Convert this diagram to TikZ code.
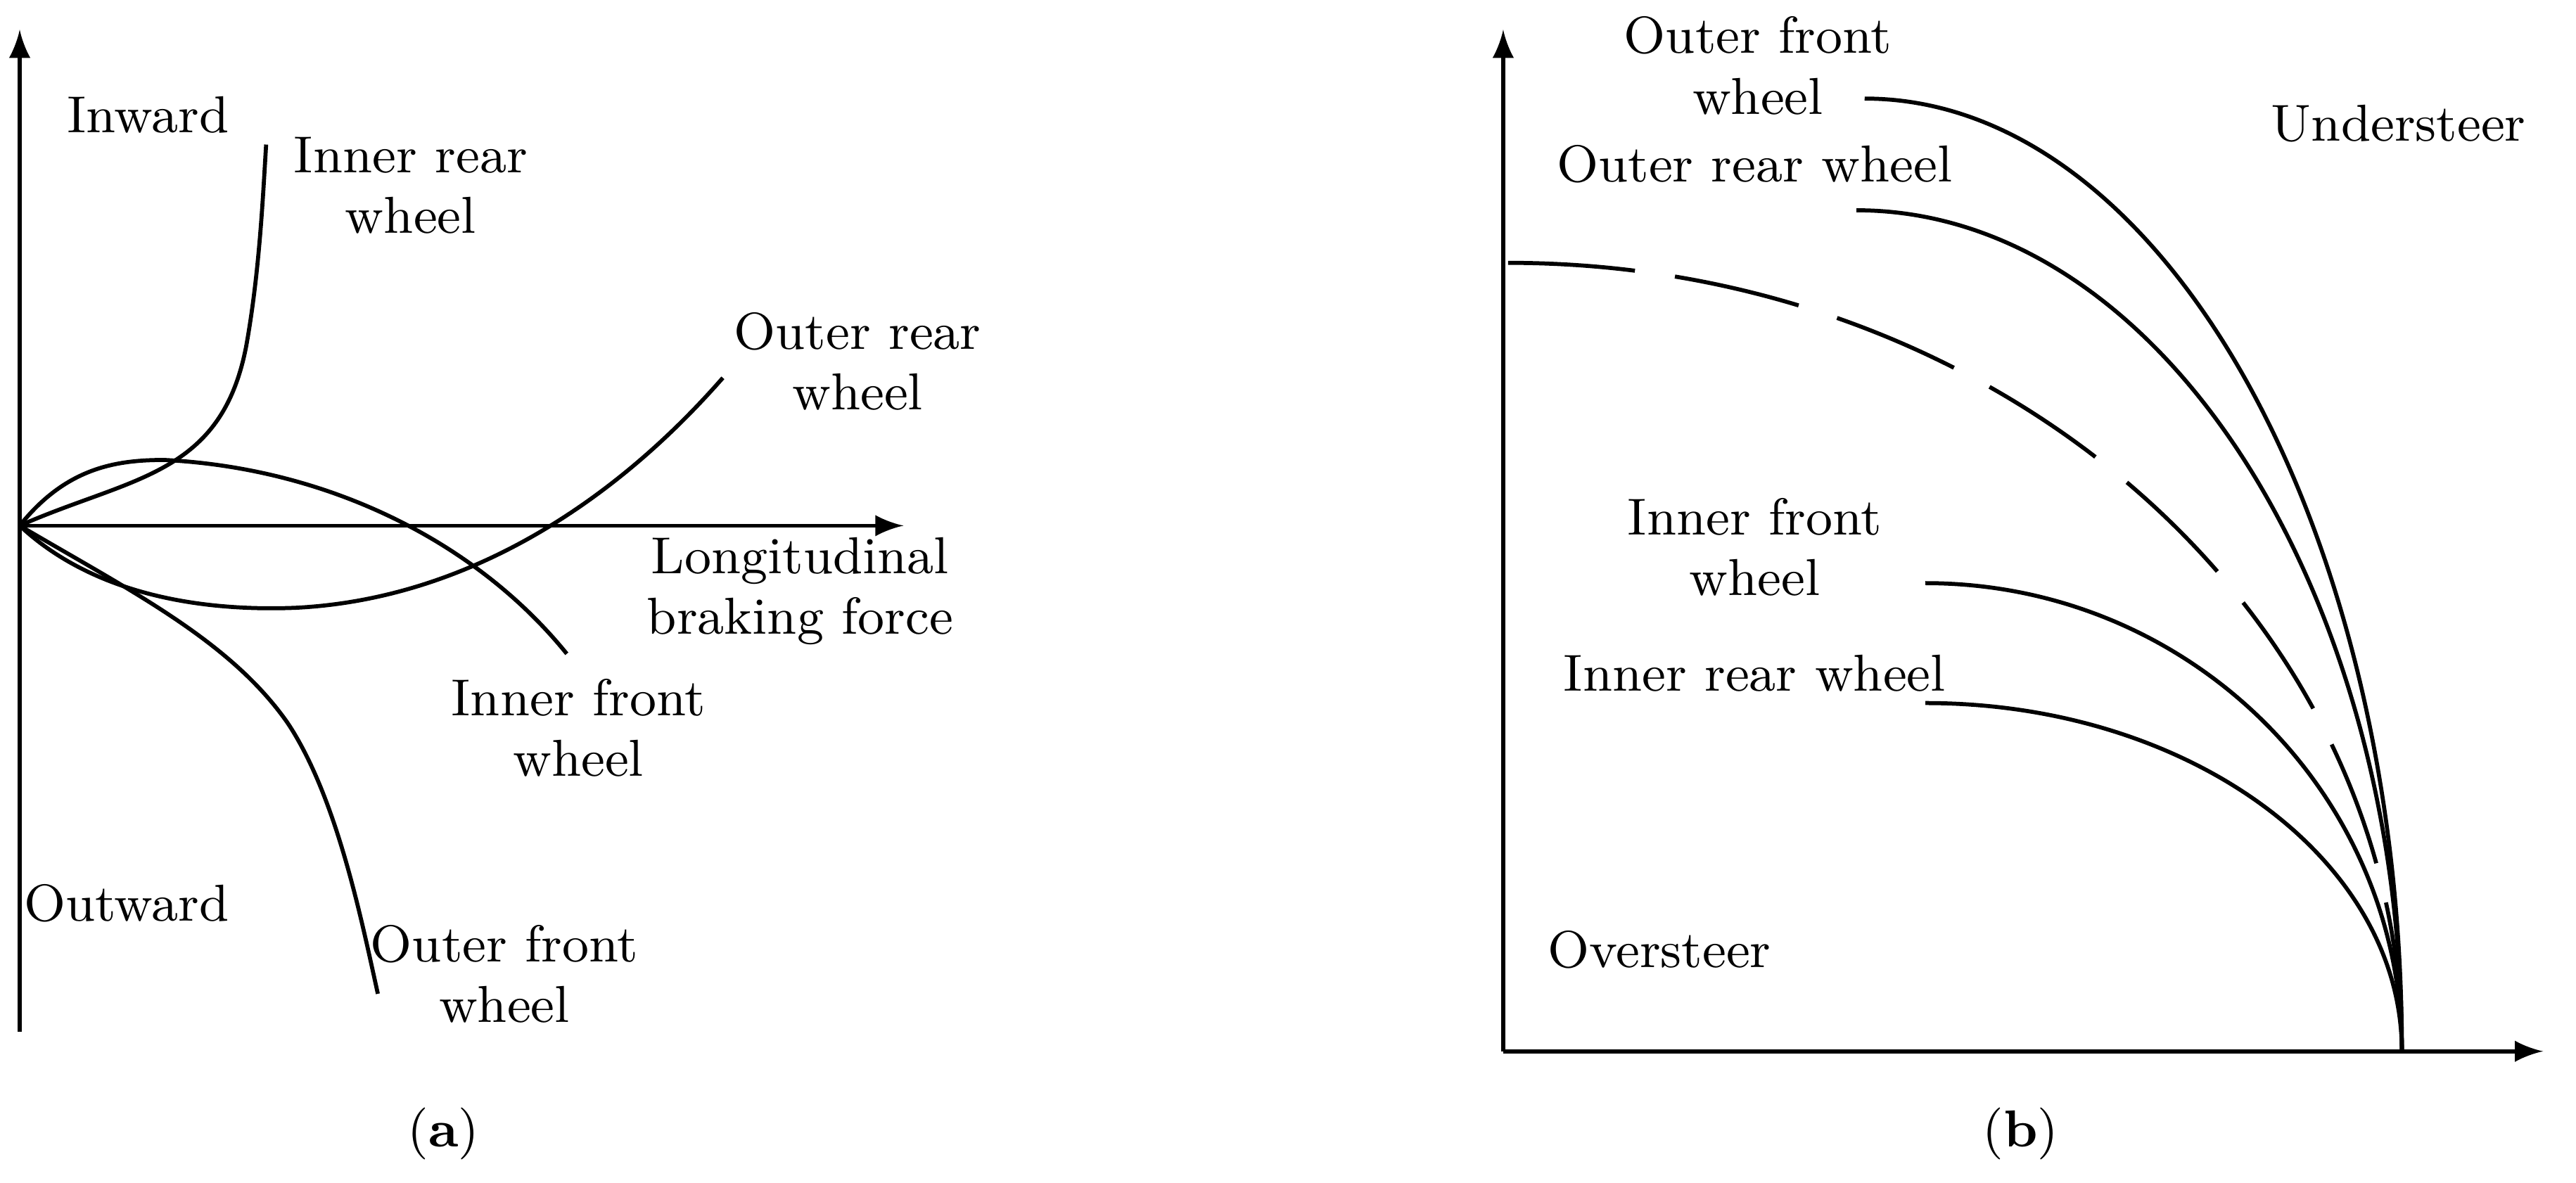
\documentclass[tikz,border=0pt]{standalone}
\begin{document}
\begin{tikzpicture}[x=0.01cm,y=-0.01cm,
  lbl/.style={font=\fontsize{9}{10.5}\selectfont,align=center,inner sep=0pt},
  crv/.style={line width=0.7pt},
  ax/.style={line width=0.7pt,-latex}]
\useasboundingbox (0,0) rectangle (1568,720);
% panel a
\coordinate (ao) at (12,320);
\coordinate (ay) at (12,18);
\coordinate (ax) at (550,320);
\draw[ax] (12,628) -- (ay);
\draw[ax] (ao) -- (ax);
\draw[crv] (ao) .. controls (80,290) and (135,290) .. (150,210) .. controls (158,165) and (160,120) .. (162,88);
\draw[crv] (ao) .. controls (60,365) and (130,372) .. (180,370) .. controls (280,365) and (370,310) .. (440,230);
\draw[crv] (ao) .. controls (40,285) and (70,280) .. (100,280) .. controls (200,285) and (290,330) .. (345,398);
\draw[crv] (ao) .. controls (80,360) and (140,390) .. (175,440) .. controls (205,485) and (220,560) .. (230,605);
\node[lbl] (inw) at (90,70) {Inward};
\node[lbl] (irw) at (250,113) {Inner rear\\wheel};
\node[lbl] (orw) at (522,220) {Outer rear\\wheel};
\node[lbl] (lbf) at (487,360) {Longitudinal\\braking force};
\node[lbl] (ifw) at (352,443) {Inner front\\wheel};
\node[lbl] (outw) at (77,550) {Outward};
\node[lbl] (ofw) at (307,593) {Outer front\\wheel};
\node[lbl] (capa) at (270,690) {(\textbf{a})};
% panel b
\coordinate (bo) at (915,640);
\coordinate (by) at (915,18);
\coordinate (bx) at (1548,640);
\coordinate (e) at (1462,640);
\draw[ax] (bo) -- (by);
\draw[ax] (bo) -- (bx);
\draw[crv] (1135,60) arc[start angle=90,end angle=0,x radius=327,y radius=-580];
\draw[crv] (1130,128) arc[start angle=90,end angle=0,x radius=332,y radius=-512];
\draw[crv,dash pattern=on 22pt off 7pt] (918,160) arc[start angle=90,end angle=0,x radius=544,y radius=-480];
\draw[crv] (1172,355) arc[start angle=90,end angle=0,x radius=290,y radius=-285];
\draw[crv] (1172,428) arc[start angle=90,end angle=0,x radius=290,y radius=-212];
\node[lbl] (bofw) at (1070,40) {Outer front\\wheel};
\node[lbl] (borw) at (1068,100) {Outer rear wheel};
\node[lbl] (us) at (1460,75) {Understeer};
\node[lbl] (bifw) at (1068,333) {Inner front\\wheel};
\node[lbl] (birw) at (1068,410) {Inner rear wheel};
\node[lbl] (os) at (1010,578) {Oversteer};
\node[lbl] (capb) at (1230,690) {(\textbf{b})};
\end{tikzpicture}
\end{document}
